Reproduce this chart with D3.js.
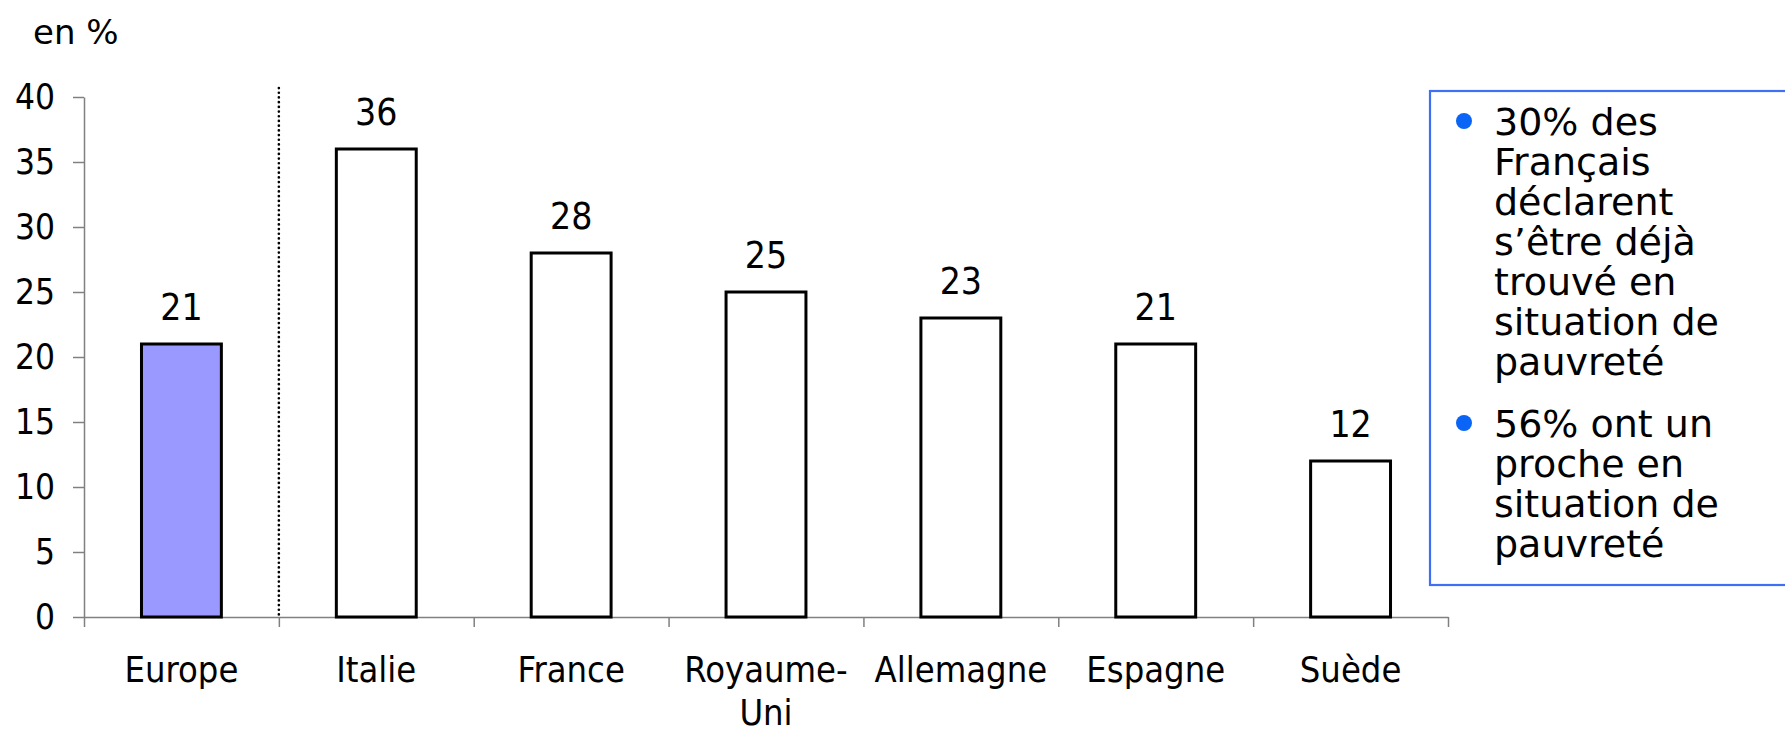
<!DOCTYPE html>
<html>
<head>
<meta charset="utf-8">
<script src="https://cdn.jsdelivr.net/npm/d3@7"></script>
<style>
  body { margin: 0; background: #fff; }
  .cond { font-family: "DejaVu Sans Condensed", "DejaVu Sans", sans-serif; font-stretch: condensed; }
</style>
</head>
<body>
<div id="chart"></div>
<script>
// data
const categories = ["Europe", "Italie", "France", "Royaume-Uni", "Allemagne", "Espagne", "Suède"];
const values = [21, 36, 28, 25, 23, 21, 12];
const yTicks = [0, 5, 10, 15, 20, 25, 30, 35, 40];
const highlighted = ["Europe"];
const unitLabel = "en %";
const bulletLines = [
  ["30% des", "Français", "déclarent", "s’être déjà", "trouvé en", "situation de", "pauvreté"],
  ["56% ont un", "proche en", "situation de", "pauvreté"]
];

const W = 1785, H = 732;
const margin = { top: 97, left: 84 };
const plotRight = 1448;
const zeroY = 617;

const svg = d3.select("#chart")
  .append("svg")
  .attr("width", W)
  .attr("height", H);

const x = d3.scaleBand()
  .domain(categories)
  .range([margin.left, plotRight])
  .paddingInner(0.59)
  .paddingOuter(0.295);

const y = d3.scaleLinear()
  .domain([0, 40])
  .range([zeroY, margin.top]);

// unit label
svg.append("text")
  .attr("x", 33)
  .attr("y", 44)
  .attr("font-family", "DejaVu Sans, sans-serif")
  .attr("font-size", 34)
  .attr("fill", "#000")
  .text(unitLabel);

// y axis
const yAxis = svg.append("g")
  .attr("transform", `translate(${margin.left},0)`)
  .call(d3.axisLeft(y).tickValues(yTicks).tickSize(11).tickSizeOuter(0).tickPadding(18));
yAxis.select(".domain").attr("stroke", "#808080").attr("stroke-width", 1.5);
yAxis.selectAll(".tick line").attr("stroke", "#808080").attr("stroke-width", 1.5);
yAxis.selectAll(".tick text")
  .attr("class", "cond")
  .attr("font-size", 35)
  .attr("fill", "#000");

// x axis: ticks on the boundaries between categories
const xb = d3.scaleLinear().domain([0, categories.length]).range([margin.left, plotRight]);
const xAxis = svg.append("g")
  .attr("transform", `translate(0,${y(0)})`)
  .call(d3.axisBottom(xb).tickValues(d3.range(categories.length + 1)).tickSize(10).tickSizeOuter(0).tickFormat(""));
xAxis.select(".domain").attr("stroke", "#808080").attr("stroke-width", 1.5);
xAxis.selectAll(".tick line").attr("stroke", "#808080").attr("stroke-width", 1.5);

// category labels (wrap after a hyphen)
const catLabels = svg.append("g")
  .attr("class", "cond")
  .attr("font-size", 36)
  .attr("text-anchor", "middle");
categories.forEach(c => {
  const cut = c.indexOf("-");
  const parts = cut >= 0 ? [c.slice(0, cut + 1), c.slice(cut + 1)] : [c];
  const cx = x(c) + x.bandwidth() / 2;
  const t = catLabels.append("text")
    .attr("x", cx)
    .attr("y", 682);
  parts.forEach((p, i) => {
    t.append("tspan")
      .attr("x", cx)
      .attr("dy", i === 0 ? 0 : 43)
      .text(p);
  });
});

// dotted separator after Europe
svg.append("line")
  .attr("x1", xb(1)).attr("x2", xb(1))
  .attr("y1", 88).attr("y2", y(0))
  .attr("stroke", "#000")
  .attr("stroke-width", 2.6)
  .attr("stroke-linecap", "round")
  .attr("stroke-dasharray", "0.1,4.6");

const data = categories.map((c, i) => ({ cat: c, val: values[i] }));

// bars
svg.append("g")
  .selectAll("rect")
  .data(data)
  .join("rect")
  .attr("x", d => x(d.cat))
  .attr("y", d => y(d.val))
  .attr("width", x.bandwidth())
  .attr("height", d => y(0) - y(d.val))
  .attr("fill", d => highlighted.includes(d.cat) ? "#9999ff" : "#fff")
  .attr("stroke", "#000")
  .attr("stroke-width", 3);

// value labels
svg.append("g")
  .attr("class", "cond")
  .attr("font-size", 37)
  .attr("text-anchor", "middle")
  .selectAll("text")
  .data(data)
  .join("text")
  .attr("x", d => x(d.cat) + x.bandwidth() / 2)
  .attr("y", d => y(d.val) - 24)
  .text(d => d.val);

// comment box on the right
svg.append("rect")
  .attr("x", 1430)
  .attr("y", 91)
  .attr("width", 420)
  .attr("height", 494)
  .attr("fill", "#fff")
  .attr("stroke", "#3f6ff5")
  .attr("stroke-width", 2.2);

const lineH = 40;
let base = 135;
const note = svg.append("g")
  .attr("font-family", "DejaVu Sans, sans-serif")
  .attr("font-size", 38)
  .attr("fill", "#000");
bulletLines.forEach(lines => {
  note.append("circle")
    .attr("cx", 1464)
    .attr("cy", base - 14)
    .attr("r", 8)
    .attr("fill", "#0a64f5");
  const t = note.append("text")
    .attr("x", 1494)
    .attr("y", base);
  lines.forEach((l, i) => {
    t.append("tspan")
      .attr("x", 1494)
      .attr("dy", i === 0 ? 0 : lineH)
      .text(l);
  });
  base += (lines.length - 1) * lineH + 62;
});
</script>
</body>
</html>
